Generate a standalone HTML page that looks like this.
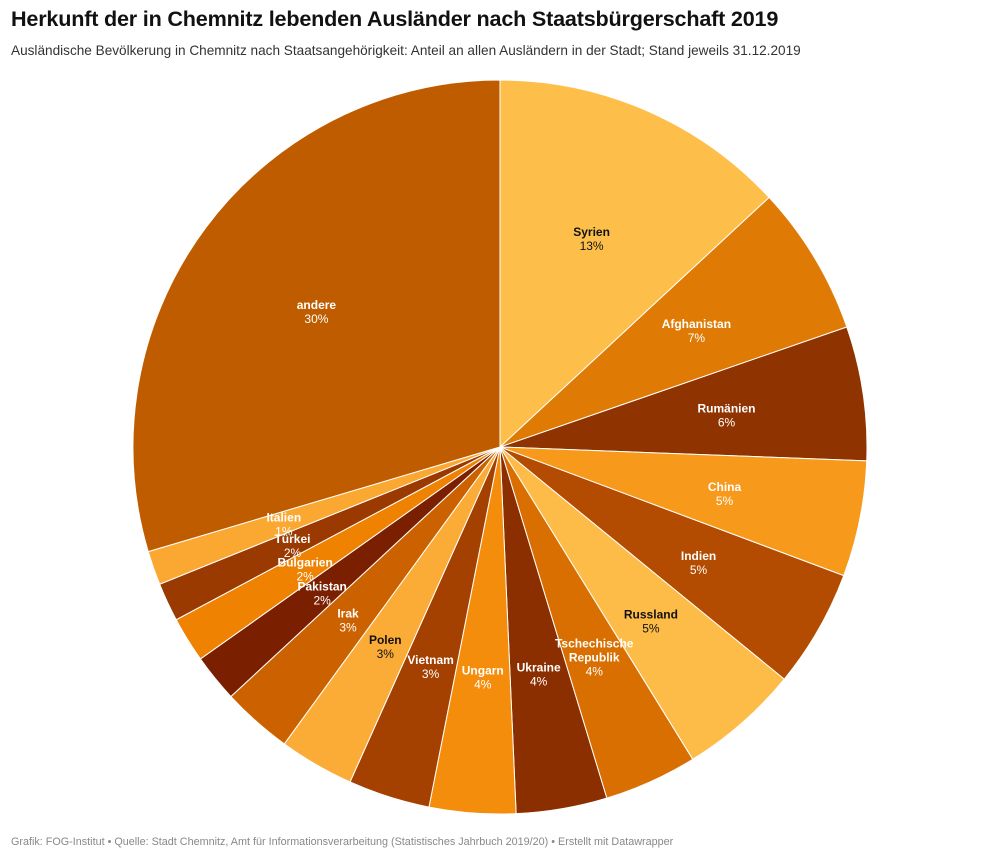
<!DOCTYPE html>
<html><head><meta charset="utf-8">
<style>
body{margin:0;background:#fff;width:1000px;height:858px;overflow:hidden;font-family:"Liberation Sans",sans-serif;}
#title{position:absolute;left:11px;top:6px;font-size:21.6px;font-weight:bold;color:#111;letter-spacing:-0.2px;}
#sub{position:absolute;left:11px;top:43px;font-size:13.6px;color:#333;}
#foot{position:absolute;left:11px;top:836px;font-size:10.8px;color:#888;}
svg{position:absolute;left:0;top:0;}
</style></head><body>
<div id="title">Herkunft der in Chemnitz lebenden Ausländer nach Staatsbürgerschaft 2019</div>
<div id="sub">Ausländische Bevölkerung in Chemnitz nach Staatsangehörigkeit: Anteil an allen Ausländern in der Stadt; Stand jeweils 31.12.2019</div>
<svg id="chart" width="1000" height="858"></svg>
<div id="foot">Grafik: FOG-Institut • Quelle: Stadt Chemnitz, Amt für Informationsverarbeitung (Statistisches Jahrbuch 2019/20) • Erstellt mit Datawrapper</div>
<script>
const categories=["Syrien","Afghanistan","Rumänien","China","Indien","Russland","Tschechische Republik","Ukraine","Ungarn","Vietnam","Polen","Irak","Pakistan","Bulgarien","Türkei","Italien","andere"];
const values=[13.1,6.6,5.9,5.1,5.2,5.3,4.1,4.0,3.8,3.6,3.3,3.1,2.1,2.0,1.7,1.5,29.6];
const labels=["13%","7%","6%","5%","5%","5%","4%","4%","4%","3%","3%","3%","2%","2%","2%","1%","30%"];
const colors=["#fdbf4a","#df7a05","#8f3300","#f79a1c","#b34c00","#fdbb47","#d86f00","#8b2e00","#f58d0c","#a54100","#fbac37","#cc6100","#7a2000","#ef8200","#9a3a00","#faa832","#c05c00"];
const darkText=[true,false,false,false,false,true,false,false,false,false,true,false,false,false,false,false,false];
const svg=document.getElementById('chart');
const NS='http://www.w3.org/2000/svg';
const cx=500,cy=447,R=367,LR=229;
const total=values.reduce((a,b)=>a+b,0);
function pt(a,r){return [cx+r*Math.sin(a),cy-r*Math.cos(a)];}
let acc=0;
const lg=document.createElementNS(NS,'g');
values.forEach((v,i)=>{
  const a0=acc/total*2*Math.PI; acc+=v; const a1=acc/total*2*Math.PI;
  const p0=pt(a0,R),p1=pt(a1,R);
  const large=(a1-a0)>Math.PI?1:0;
  const path=document.createElementNS(NS,'path');
  path.setAttribute('d',`M${cx},${cy}L${p0[0]},${p0[1]}A${R},${R} 0 ${large} 1 ${p1[0]},${p1[1]}Z`);
  path.setAttribute('fill',colors[i]);
  path.setAttribute('stroke','#fff');
  path.setAttribute('stroke-width','1');
  
  
  svg.appendChild(path);
  const m=pt((a0+a1)/2,LR);
  const col=darkText[i]?'#111':'#fff';
  const words=categories[i]=="Tschechische Republik"?["Tschechische","Republik"]:[categories[i]];
  const t=document.createElementNS(NS,'text');
  t.setAttribute('x',m[0]);t.setAttribute('y',m[1]-(words.length-1)*7-1);
  t.setAttribute('text-anchor','middle');t.setAttribute('font-size','12');
  t.setAttribute('font-family','Liberation Sans, sans-serif');t.setAttribute('fill',col);
  
  
  words.forEach((w,k)=>{const s=document.createElementNS(NS,'tspan');s.setAttribute('x',m[0]);if(k>0)s.setAttribute('dy','14');s.setAttribute('font-weight','bold');s.textContent=w;t.appendChild(s);});
  const s2=document.createElementNS(NS,'tspan');s2.setAttribute('x',m[0]);s2.setAttribute('dy','14');s2.textContent=labels[i];t.appendChild(s2);
  lg.appendChild(t);
});
svg.appendChild(lg);
</script>
</body></html>
